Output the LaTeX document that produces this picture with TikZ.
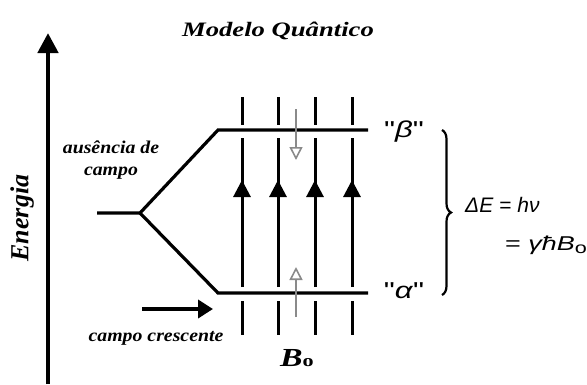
\documentclass[tikz,border=0pt]{standalone}
\usepackage{fontspec}
\setmainfont{Liberation Serif}
\newfontfamily\wideserif[FakeStretch=1.3]{Liberation Serif}
\newfontfamily\labelserif[FakeStretch=1.1]{Liberation Serif}
\newfontfamily\eqfont{Liberation Sans}
\newfontfamily\widesans[FakeStretch=1.35]{Liberation Sans}
\usetikzlibrary{arrows.meta,positioning,decorations.pathreplacing}
\definecolor{ink}{HTML}{000000}
\definecolor{spingray}{HTML}{8A8A8A}
\tikzset{
  level/.style={line width=3.2pt,draw=ink},
  fieldline/.style={line width=3pt,draw=ink},
  fieldarr/.style={fieldline,-{Triangle[length=17pt,width=17pt]}},
  spinarr/.style={line width=2.6pt,draw=spingray,
                  -{Triangle[open,fill=white,line width=1.6pt,length=13pt,width=13pt]}},
  bigarr/.style={line width=4.6pt,draw=ink,-{Triangle[length=20pt,width=20pt]}},
  lbl/.style={font=\fontsize{18}{22}\selectfont\labelserif\bfseries\itshape,
              align=center,inner sep=0pt},
  statelbl/.style={font=\fontsize{23}{25}\selectfont\widesans,inner sep=0pt},
  eqlbl/.style={anchor=base west,inner sep=0pt},
  brace/.style={decorate,decoration={brace,amplitude=9pt},line width=2.2pt,draw=ink}
}
\begin{document}
\begin{tikzpicture}[x=1pt,y=-1pt]
  \useasboundingbox (0,0) rectangle (587,384);
  % axis and title
  \coordinate (ebot) at (48,384);
  \coordinate (etop) at (48,33);
  \draw[bigarr] (ebot) -- (etop);
  \node[font=\fontsize{26}{28}\selectfont\bfseries\itshape,rotate=90,inner sep=0pt]
    (energia) at (22,218) {Energia};
  \node[lbl,font=\fontsize{20.5}{22}\selectfont\wideserif\bfseries\itshape,anchor=base]
    (title) at (278,36) {Modelo Quântico};

  % energy levels
  \coordinate (zero) at (97,213);
  \coordinate (split) at (140,213);
  \coordinate (upL) at (218,130);
  \coordinate (upR) at (368,130);
  \coordinate (loL) at (218,293);
  \coordinate (loR) at (368,293);
  \draw[level] (zero) -- (split) -- (upL) -- (upR);
  \draw[level] (split) -- (loL) -- (loR);
  \node[lbl,anchor=base] (ausencia) at (111,175) {ausência de\\campo};

  % field lines
  \foreach \fx in {242,278,315,352} {
    \draw[fieldline] (\fx,97) -- (\fx,125);
    \draw[fieldline] (\fx,138) -- (\fx,287);
    \draw[fieldarr] (\fx,287) -- (\fx,180);
    \draw[fieldline] (\fx,301) -- (\fx,335);
  }
  \draw[spinarr] (296,109) -- (296,160);
  \draw[spinarr] (296,317) -- (296,267);

  % increasing field
  \coordinate (cstart) at (142,309);
  \coordinate (cend) at (213,309);
  \draw[bigarr,-{Triangle[length=15pt,width=18pt]}] (cstart) -- (cend);
  \node[lbl,anchor=base] (crescente) at (156,341) {campo crescente};
  \node[anchor=base,inner sep=0pt] (bzero) at (297,366)
    {\fontsize{26}{28}\selectfont\wideserif\bfseries\itshape B%
     \fontsize{17}{17}\selectfont\upshape o};

  % spin states
  \node[statelbl] (beta) at (404,132) {"\textit{β}"};
  \node[statelbl] (alpha) at (404,291) {"\textit{α}"};
  \coordinate (btop) at (442,130);
  \coordinate (bbot) at (442,295);
  \draw[brace] (btop) -- (bbot);
  \node[eqlbl,font=\fontsize{21}{23}\selectfont\eqfont] (eqone) at (465,212)
    {\textit{ΔE} = \textit{hν}};
  \node[eqlbl,font=\fontsize{20}{22}\selectfont\widesans] (eqtwo) at (505,250)
    {= \textit{γħB}\raisebox{-3pt}{\fontsize{16}{16}\selectfont o}};
\end{tikzpicture}
\end{document}
